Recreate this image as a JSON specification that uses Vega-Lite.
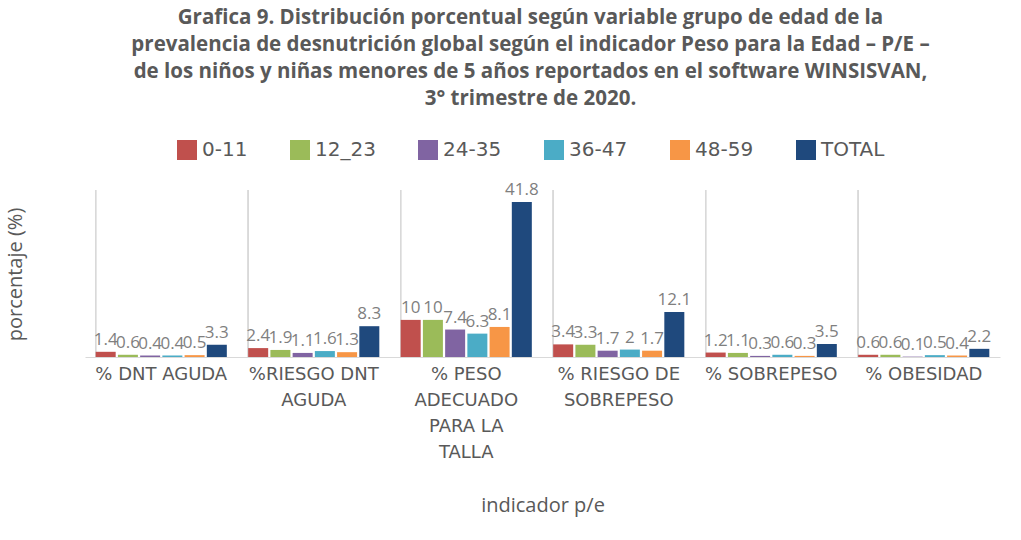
{
  "$schema": "https://vega.github.io/schema/vega-lite/v6.json",
  "width": 915,
  "height": 167,
  "autosize": "none",
  "padding": {"left": 85, "top": 190, "right": 21, "bottom": 183},
  "background": "white",
  "title": {
    "text": ["Grafica 9. Distribución porcentual según variable grupo de edad de la", "prevalencia de desnutrición global según el indicador Peso para la Edad – P/E –", "de los niños y niñas menores de 5 años reportados en el software WINSISVAN,", "3° trimestre de 2020."],
    "font": "Open Sans",
    "fontSize": 20.5,
    "fontWeight": "bold",
    "color": "#595959",
    "lineHeight": 27,
    "anchor": "middle",
    "dx": -12,
    "offset": 31
  },
  "data": {
    "values": [
      {"indicador": "% DNT AGUDA", "grupo": "0-11", "valor": 1.4},
      {"indicador": "% DNT AGUDA", "grupo": "12_23", "valor": 0.6},
      {"indicador": "% DNT AGUDA", "grupo": "24-35", "valor": 0.4},
      {"indicador": "% DNT AGUDA", "grupo": "36-47", "valor": 0.4},
      {"indicador": "% DNT AGUDA", "grupo": "48-59", "valor": 0.5},
      {"indicador": "% DNT AGUDA", "grupo": "TOTAL", "valor": 3.3},
      {"indicador": "%RIESGO DNT AGUDA", "grupo": "0-11", "valor": 2.4},
      {"indicador": "%RIESGO DNT AGUDA", "grupo": "12_23", "valor": 1.9},
      {"indicador": "%RIESGO DNT AGUDA", "grupo": "24-35", "valor": 1.1},
      {"indicador": "%RIESGO DNT AGUDA", "grupo": "36-47", "valor": 1.6},
      {"indicador": "%RIESGO DNT AGUDA", "grupo": "48-59", "valor": 1.3},
      {"indicador": "%RIESGO DNT AGUDA", "grupo": "TOTAL", "valor": 8.3},
      {"indicador": "% PESO ADECUADO PARA LA TALLA", "grupo": "0-11", "valor": 10},
      {"indicador": "% PESO ADECUADO PARA LA TALLA", "grupo": "12_23", "valor": 10},
      {"indicador": "% PESO ADECUADO PARA LA TALLA", "grupo": "24-35", "valor": 7.4},
      {"indicador": "% PESO ADECUADO PARA LA TALLA", "grupo": "36-47", "valor": 6.3},
      {"indicador": "% PESO ADECUADO PARA LA TALLA", "grupo": "48-59", "valor": 8.1},
      {"indicador": "% PESO ADECUADO PARA LA TALLA", "grupo": "TOTAL", "valor": 41.8},
      {"indicador": "% RIESGO DE SOBREPESO", "grupo": "0-11", "valor": 3.4},
      {"indicador": "% RIESGO DE SOBREPESO", "grupo": "12_23", "valor": 3.3},
      {"indicador": "% RIESGO DE SOBREPESO", "grupo": "24-35", "valor": 1.7},
      {"indicador": "% RIESGO DE SOBREPESO", "grupo": "36-47", "valor": 2},
      {"indicador": "% RIESGO DE SOBREPESO", "grupo": "48-59", "valor": 1.7},
      {"indicador": "% RIESGO DE SOBREPESO", "grupo": "TOTAL", "valor": 12.1},
      {"indicador": "% SOBREPESO", "grupo": "0-11", "valor": 1.2},
      {"indicador": "% SOBREPESO", "grupo": "12_23", "valor": 1.1},
      {"indicador": "% SOBREPESO", "grupo": "24-35", "valor": 0.3},
      {"indicador": "% SOBREPESO", "grupo": "36-47", "valor": 0.6},
      {"indicador": "% SOBREPESO", "grupo": "48-59", "valor": 0.3},
      {"indicador": "% SOBREPESO", "grupo": "TOTAL", "valor": 3.5},
      {"indicador": "% OBESIDAD", "grupo": "0-11", "valor": 0.6},
      {"indicador": "% OBESIDAD", "grupo": "12_23", "valor": 0.6},
      {"indicador": "% OBESIDAD", "grupo": "24-35", "valor": 0.1},
      {"indicador": "% OBESIDAD", "grupo": "36-47", "valor": 0.5},
      {"indicador": "% OBESIDAD", "grupo": "48-59", "valor": 0.4},
      {"indicador": "% OBESIDAD", "grupo": "TOTAL", "valor": 2.2}
    ]
  },
  "encoding": {
    "x": {
      "field": "indicador",
      "type": "nominal",
      "sort": null,
      "scale": {"paddingInner": 0.14, "paddingOuter": 0.07},
      "axis": {
        "title": "indicador p/e",
        "titleFont": "Open Sans",
        "titleFontSize": 20,
        "titleFontWeight": "normal",
        "titleColor": "#595959",
        "titleY": 138,
        "labelAngle": 0,
        "labelFont": "DejaVu Sans",
        "labelFontSize": 18,
        "labelColor": "#595959",
        "labelLineHeight": 26,
        "labelPadding": 8,
        "labelLimit": 200,
        "labelExpr": "datum.value == '%RIESGO DNT AGUDA' ? ['%RIESGO DNT','AGUDA'] : datum.value == '% PESO ADECUADO PARA LA TALLA' ? ['% PESO','ADECUADO','PARA LA','TALLA'] : datum.value == '% RIESGO DE SOBREPESO' ? ['% RIESGO DE','SOBREPESO'] : datum.label",
        "ticks": false,
        "grid": false,
        "domainColor": "#d9d9d9",
        "domainWidth": 1
      }
    }
  },
  "layer": [
    {
      "mark": {"type": "rule", "color": "#d9d9d9", "strokeWidth": 1},
      "encoding": {
        "x": {"field": "indicador", "type": "nominal", "sort": null, "bandPosition": 0}
      }
    },
    {
      "mark": {"type": "bar"},
      "encoding": {
        "xOffset": {"field": "grupo", "type": "nominal", "sort": null, "scale": {"paddingInner": 0.1}},
        "y": {
          "field": "valor",
          "type": "quantitative",
          "scale": {"domain": [0, 45], "nice": false},
          "axis": {
            "title": "porcentaje (%)",
            "titleFont": "Open Sans",
            "titleFontSize": 20,
            "titleFontWeight": "normal",
            "titleColor": "#595959",
            "titleX": -60,
            "titleY": 84,
            "labels": false,
            "ticks": false,
            "domain": false,
            "grid": false
          }
        },
        "color": {
          "field": "grupo",
          "type": "nominal",
          "scale": {
            "domain": ["0-11", "12_23", "24-35", "36-47", "48-59", "TOTAL"],
            "range": ["#c0504d", "#9bbb59", "#8064a2", "#4bacc6", "#f79646", "#1f497d"]
          },
          "legend": {
            "title": null,
            "orient": "none",
            "legendX": 92,
            "legendY": -50,
            "direction": "horizontal",
            "columns": 6,
            "symbolType": "square",
            "symbolSize": 400,
            "symbolStrokeWidth": 0,
            "labelFont": "DejaVu Sans",
            "labelFontSize": 20,
            "labelColor": "#595959",
            "columnPadding": 42,
            "labelOffset": 5
          }
        }
      }
    },
    {
      "mark": {"type": "text", "baseline": "bottom", "dy": -3, "font": "Open Sans", "fontSize": 17, "color": "#7f7f7f"},
      "encoding": {
        "xOffset": {"field": "grupo", "type": "nominal", "sort": null, "scale": {"paddingInner": 0.1}},
        "y": {"field": "valor", "type": "quantitative"},
        "text": {"field": "valor", "type": "quantitative"}
      }
    }
  ],
  "config": {"view": {"stroke": null}}
}
